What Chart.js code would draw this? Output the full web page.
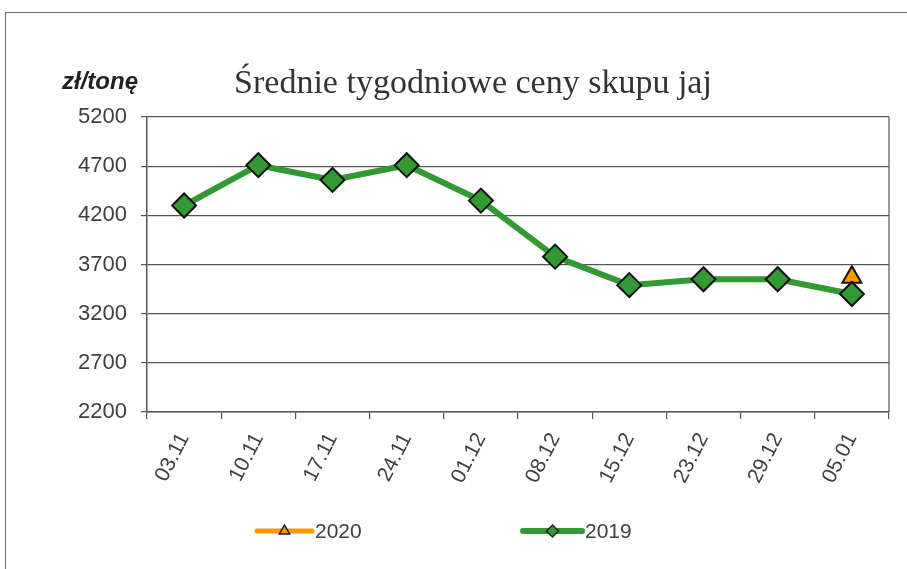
<!DOCTYPE html>
<html><head><meta charset="utf-8">
<script src="https://cdn.jsdelivr.net/npm/chart.js@4"></script>
<style>
html,body{margin:0;padding:0;background:#fff;overflow:hidden;width:907px;height:569px}
#wrap{position:absolute;left:0;top:0;width:907px;height:569px}
#frame{position:absolute;left:5px;top:12px;width:1000px;height:1000px;border:1.5px solid #6b6b6b}
</style></head><body>
<div id="frame"></div>
<div id="wrap"><canvas id="c" width="907" height="569"></canvas></div>
<script>
const categories = ['03.11','10.11','17.11','24.11','01.12','08.12','15.12','23.12','29.12','05.01'];
const values2019 = [4300,4710,4560,4710,4350,3780,3490,3550,3550,3400];
const values2020 = [null,null,null,null,null,null,null,null,null,3570];
const yTicks = [2200,2700,3200,3700,4200,4700,5200];
const seriesNames = ['2020','2019'];
const chartTitle = 'Średnie tygodniowe ceny skupu jaj';
const unitLabel = 'zł/tonę';

const GREEN = '#339933', ORANGE = '#ff9900', TXT = '#404040', GRID = '#555555';

const decor = {
  id: 'decor',
  afterDraw(chart) {
    const ctx = chart.ctx, a = chart.chartArea;
    ctx.save();
    // plot area right border
    ctx.strokeStyle = GRID; ctx.lineWidth = 1.2;
    ctx.beginPath(); ctx.moveTo(a.right, a.top); ctx.lineTo(a.right, a.bottom); ctx.stroke();
    // title
    ctx.fillStyle = '#333';
    ctx.font = '34px "Liberation Serif"';
    ctx.textAlign = 'center'; ctx.textBaseline = 'alphabetic';
    ctx.fillText(chartTitle, 473, 93);
    // unit
    ctx.font = 'italic bold 24px "Liberation Sans"';
    ctx.textAlign = 'left'; ctx.fillStyle = '#222';
    ctx.fillText(unitLabel, 62, 89);
    // legend
    const ly = 531;
    const items = [
      {name: seriesNames[0], color: ORANGE, x0: 257, x1: 312, style: 'triangle', w: 5},
      {name: seriesNames[1], color: GREEN, x0: 523, x1: 582, style: 'rectRot', w: 6}
    ];
    items.forEach(it => {
      ctx.strokeStyle = it.color; ctx.lineWidth = it.w; ctx.lineCap = 'round';
      ctx.beginPath(); ctx.moveTo(it.x0, ly); ctx.lineTo(it.x1, ly); ctx.stroke();
      ctx.fillStyle = it.color; ctx.strokeStyle = '#222'; ctx.lineWidth = 1.5;
      Chart.helpers.drawPoint(ctx, {pointStyle: it.style, radius: 6, rotation: 0, borderWidth: 1.5}, (it.x0 + it.x1) / 2, ly);
      ctx.fillStyle = TXT;
      ctx.font = '21px "Liberation Sans"';
      ctx.textAlign = 'left'; ctx.textBaseline = 'middle';
      ctx.fillText(it.name, it.x1 + 3, ly + 1);
    });
    ctx.restore();
  }
};

new Chart(document.getElementById('c'), {
  type: 'line',
  data: {
    labels: categories,
    datasets: [
      {label: seriesNames[1], data: values2019, borderColor: GREEN, backgroundColor: GREEN, borderWidth: 6,
       pointStyle: 'rectRot', pointRadius: 12, pointBackgroundColor: GREEN, pointBorderColor: '#111', pointBorderWidth: 2, tension: 0},
      {label: seriesNames[0], data: values2020, borderColor: ORANGE, backgroundColor: ORANGE, borderWidth: 5,
       pointStyle: 'triangle', pointRadius: 11, pointBackgroundColor: ORANGE, pointBorderColor: '#111', pointBorderWidth: 2}
    ]
  },
  options: {
    responsive: false, animation: false, devicePixelRatio: 1,
    layout: {padding: {top: 117, right: 18, bottom: 0, left: 0}},
    plugins: {legend: {display: false}, title: {display: false}, tooltip: {enabled: false}},
    scales: {
      x: {
        offset: true,
        grid: {offset: true, drawOnChartArea: false, color: GRID, tickLength: 7, lineWidth: 1.2},
        border: {color: GRID, width: 1.5},
        ticks: {minRotation: 63, maxRotation: 63, color: TXT, font: {family: 'Liberation Sans', size: 21}, padding: 10, autoSkip: false},
        afterFit: s => { s.height = 157; }
      },
      y: {
        min: 2200, max: 5200,
        afterBuildTicks: s => { s.ticks = yTicks.map(v => ({value: v})); },
        grid: {color: GRID, tickLength: 6, lineWidth: 1.2},
        border: {color: GRID, width: 1.5},
        ticks: {color: TXT, font: {family: 'Liberation Sans', size: 22}, padding: 14, callback: v => String(v)},
        afterFit: s => { s.width = 147; }
      }
    }
  },
  plugins: [decor]
});
</script>
</body></html>
